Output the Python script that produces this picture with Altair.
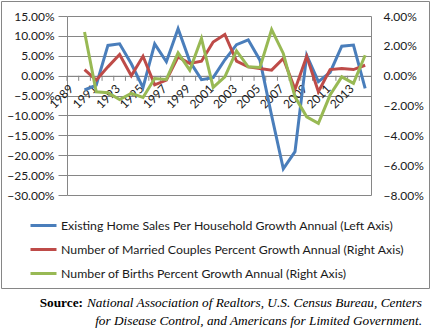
import altair as alt
import pandas as pd

years = [str(y) for y in range(1989, 2015)]
label_years = [str(y) for y in range(1989, 2015, 2)]

series_names = [
    "Existing Home Sales Per Household Growth Annual (Left Axis)",
    "Number of Married Couples Percent Growth Annual (Right Axis)",
    "Number of Births Percent Growth Annual (Right Axis)",
]
series_colors = ["#4A7EBB", "#BE4B48", "#98B954"]

# values in percent, 1989 .. 2014 (1989 empty)
home_sales = [None, -3.6, -2.4, 7.6, 8.0, 3.0, -3.0, 8.0, 3.5, 11.8, 3.6, -1.0, -0.5,
              4.0, 7.8, 9.0, 3.9, -10.0, -23.4, -19.1, 5.1, -1.5, 0.8, 7.4, 7.7, -3.2]
married = [None, 0.41, -0.30, 0.59, 1.42, 0.0, 1.30, -0.62, -0.30, 1.26, 0.82, 0.97, 2.26,
           2.76, 0.97, 0.59, 0.48, 0.37, 1.15, -0.92, 1.30, -1.08, 0.41, 0.48, 0.41, 0.70]
births = [None, 2.93, -1.08, -1.15, -1.60, -1.19, -1.46, -0.19, -0.25, 1.53, 0.37, 2.49, -0.79,
          -0.08, 1.66, 0.59, 0.55, 3.09, 1.49, -1.42, -2.76, -3.20, -1.30, -0.08, -0.52, 1.37]

left_ticks = [0.15, 0.10, 0.05, 0.0, -0.05, -0.10, -0.15, -0.20, -0.25, -0.30]
right_ticks = [0.04, 0.02, 0.0, -0.02, -0.04, -0.06, -0.08]

source_bold = "Source:"
source_line1 = "National Association of Realtors, U.S. Census Bureau, Centers"
source_line2 = "for Disease Control, and Americans for Limited Government."

rows = []
for name, vals in zip(series_names, [home_sales, married, births]):
    for y, v in zip(years, vals):
        if v is not None:
            rows.append({"year": y, "series": name, "value": v / 100.0})
df = pd.DataFrame(rows)
left_df = df[df.series == series_names[0]]
right_df = df[df.series != series_names[0]]

FONT = "Lato"
GRID = "#868686"
TXT = "#1a1a1a"
PLOT_H = 179
ZERO_Y = 59.8

x_enc = alt.X(
    "year:O",
    scale=alt.Scale(domain=years, type="point", padding=0.5),
    axis=alt.Axis(labels=False, offset=-(PLOT_H - ZERO_Y), ticks=False, grid=False,
                  domainColor=GRID, title=None),
)

color_enc = alt.Color(
    "series:N",
    scale=alt.Scale(domain=series_names, range=series_colors),
    legend=alt.Legend(orient="none", legendX=-38, legendY=195, title=None,
                      symbolType="stroke", symbolSize=676, symbolStrokeWidth=3,
                      labelFont=FONT, labelFontSize=12.3, labelColor=TXT,
                      padding=0, rowPadding=3, labelOffset=3, labelLimit=500),
)

left_line = alt.Chart(left_df).mark_line(strokeWidth=3).encode(
    x=x_enc,
    y=alt.Y("value:Q",
            scale=alt.Scale(domain=[-0.30, 0.15], nice=False, zero=False),
            axis=alt.Axis(orient="left", format=".2%", values=left_ticks, grid=True,
                          gridColor=GRID, domainColor=GRID, tickColor=GRID,
                          tickSize=9, labelPadding=4, labelFont=FONT,
                          labelFontSize=12, labelColor=TXT, title=None)),
    color=color_enc,
)

right_line = alt.Chart(right_df).mark_line(strokeWidth=3).encode(
    x=x_enc,
    y=alt.Y("value:Q",
            scale=alt.Scale(domain=[-0.08, 0.04], nice=False, zero=False),
            axis=alt.Axis(orient="right", format=".2%", values=right_ticks, grid=False,
                          domainColor=GRID, ticks=False, labelPadding=12,
                          labelFont=FONT, labelFontSize=12, labelColor=TXT,
                          title=None)),
    color=color_enc,
)

tick_df = pd.DataFrame({"year": years})
cat_ticks = alt.Chart(tick_df).mark_rule(color=GRID, strokeWidth=1).encode(
    x=x_enc,
    xOffset=alt.value(-5.85),
    y=alt.value(ZERO_Y),
    y2=alt.value(ZERO_Y + 5),
)

label_df = pd.DataFrame({"year": label_years})
x_labels = alt.Chart(label_df).mark_text(
    angle=315, align="right", baseline="middle", font=FONT, fontSize=12, color=TXT
).encode(
    x=x_enc,
    xOffset=alt.value(-1.5),
    y=alt.value(ZERO_Y + 11),
    text="year:N",
)

one = pd.DataFrame({"a": [0]})
border = alt.Chart(one).mark_rect(fillOpacity=0, stroke=GRID, strokeWidth=1).encode(
    x=alt.value(-65.5), x2=alt.value(362.5), y=alt.value(-14.5), y2=alt.value(272.5)
)

SRC_FS = 13.3
src_bold = alt.Chart(one).mark_text(
    align="right", baseline="middle", font="Liberation Serif", fontSize=SRC_FS,
    fontWeight="bold", color="#000"
).encode(x=alt.value(16), y=alt.value(287), text=alt.value(source_bold))

src1 = alt.Chart(one).mark_text(
    align="right", baseline="middle", font="Liberation Serif", fontSize=SRC_FS,
    fontStyle="italic", color="#000"
).encode(x=alt.value(355), y=alt.value(287), text=alt.value(source_line1))

src2 = alt.Chart(one).mark_text(
    align="right", baseline="middle", font="Liberation Serif", fontSize=SRC_FS,
    fontStyle="italic", color="#000"
).encode(x=alt.value(355), y=alt.value(305), text=alt.value(source_line2))

chart = alt.layer(
    border, cat_ticks, x_labels, left_line, right_line, src_bold, src1, src2
).resolve_scale(y="independent").properties(
    width=304, height=PLOT_H, autosize="none",
    padding={"left": 67, "top": 16, "right": 60, "bottom": 139},
    background="white",
).configure_view(stroke=None)

chart.save("out.html", embed_options={"renderer": "svg", "actions": False})
